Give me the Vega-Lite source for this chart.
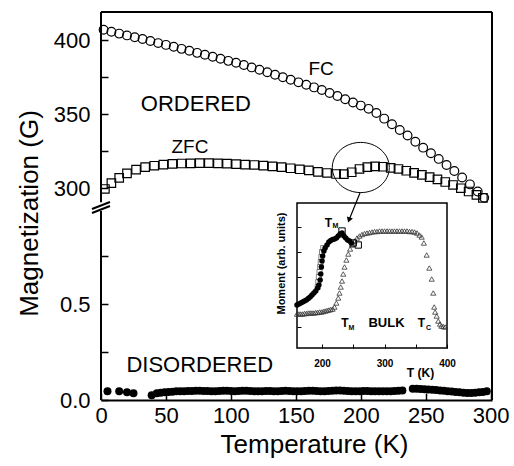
{
  "$schema": "https://vega.github.io/schema/vega-lite/v6.json",
  "width": 391,
  "height": 388,
  "autosize": "none",
  "padding": {"left": 101, "top": 12, "right": 22, "bottom": 66},
  "config": {
    "font": "Liberation Sans",
    "view": {"stroke": null},
    "axis": {"grid": false, "labelColor": "black", "titleColor": "black", "tickColor": "black", "domainColor": "black"}
  },
  "datasets": {
    "main": [
      {"series": "FC", "T": 2, "M": 407}, {"series": "FC", "T": 8, "M": 405.7}, {"series": "FC", "T": 14, "M": 404.4}, {"series": "FC", "T": 20, "M": 403.2},
      {"series": "FC", "T": 26, "M": 402}, {"series": "FC", "T": 32, "M": 400.8}, {"series": "FC", "T": 38, "M": 399.4}, {"series": "FC", "T": 44, "M": 398},
      {"series": "FC", "T": 50, "M": 396.8}, {"series": "FC", "T": 56, "M": 395.5}, {"series": "FC", "T": 62, "M": 394.1}, {"series": "FC", "T": 68, "M": 392.8},
      {"series": "FC", "T": 74, "M": 391.4}, {"series": "FC", "T": 80, "M": 390.1}, {"series": "FC", "T": 86, "M": 388.8}, {"series": "FC", "T": 92, "M": 387.4},
      {"series": "FC", "T": 98, "M": 386}, {"series": "FC", "T": 104, "M": 384.7}, {"series": "FC", "T": 110, "M": 383.2}, {"series": "FC", "T": 116, "M": 381.6},
      {"series": "FC", "T": 122, "M": 380}, {"series": "FC", "T": 128, "M": 378.3}, {"series": "FC", "T": 134, "M": 376.6}, {"series": "FC", "T": 140, "M": 374.9},
      {"series": "FC", "T": 146, "M": 373.3}, {"series": "FC", "T": 152, "M": 371.5}, {"series": "FC", "T": 158, "M": 369.9}, {"series": "FC", "T": 164, "M": 368.1},
      {"series": "FC", "T": 170, "M": 366.3}, {"series": "FC", "T": 176, "M": 364.3}, {"series": "FC", "T": 182, "M": 362.3}, {"series": "FC", "T": 188, "M": 360.1},
      {"series": "FC", "T": 194, "M": 357.9}, {"series": "FC", "T": 200, "M": 355.8}, {"series": "FC", "T": 206, "M": 353.6}, {"series": "FC", "T": 212, "M": 350.8},
      {"series": "FC", "T": 218, "M": 347}, {"series": "FC", "T": 224, "M": 343.2}, {"series": "FC", "T": 230, "M": 339.3}, {"series": "FC", "T": 236, "M": 335.6},
      {"series": "FC", "T": 242, "M": 331.4}, {"series": "FC", "T": 248, "M": 327.4}, {"series": "FC", "T": 254, "M": 323.6}, {"series": "FC", "T": 260, "M": 319.8},
      {"series": "FC", "T": 266, "M": 315.7}, {"series": "FC", "T": 272, "M": 311.6}, {"series": "FC", "T": 278, "M": 307.3}, {"series": "FC", "T": 284, "M": 302.6},
      {"series": "FC", "T": 290, "M": 297.8}, {"series": "FC", "T": 295, "M": 293.5},
      {"series": "ZFC", "T": 3, "M": 299.5}, {"series": "ZFC", "T": 8, "M": 303.5}, {"series": "ZFC", "T": 14, "M": 307}, {"series": "ZFC", "T": 20, "M": 310},
      {"series": "ZFC", "T": 27, "M": 312.5}, {"series": "ZFC", "T": 34, "M": 314.2}, {"series": "ZFC", "T": 41, "M": 315.2}, {"series": "ZFC", "T": 48, "M": 316},
      {"series": "ZFC", "T": 55, "M": 316.4}, {"series": "ZFC", "T": 62, "M": 316.7}, {"series": "ZFC", "T": 69, "M": 316.8}, {"series": "ZFC", "T": 76, "M": 316.9},
      {"series": "ZFC", "T": 83, "M": 316.9}, {"series": "ZFC", "T": 90, "M": 316.8}, {"series": "ZFC", "T": 97, "M": 316.6}, {"series": "ZFC", "T": 104, "M": 316.3},
      {"series": "ZFC", "T": 111, "M": 316}, {"series": "ZFC", "T": 118, "M": 315.7}, {"series": "ZFC", "T": 125, "M": 315.3}, {"series": "ZFC", "T": 132, "M": 314.8},
      {"series": "ZFC", "T": 139, "M": 314.2}, {"series": "ZFC", "T": 146, "M": 313.5}, {"series": "ZFC", "T": 153, "M": 312.8}, {"series": "ZFC", "T": 160, "M": 312},
      {"series": "ZFC", "T": 167, "M": 311}, {"series": "ZFC", "T": 174, "M": 310.3}, {"series": "ZFC", "T": 181, "M": 309.6}, {"series": "ZFC", "T": 187, "M": 309.5},
      {"series": "ZFC", "T": 193, "M": 310.8}, {"series": "ZFC", "T": 199, "M": 313}, {"series": "ZFC", "T": 205, "M": 314.3}, {"series": "ZFC", "T": 211, "M": 314.8},
      {"series": "ZFC", "T": 217, "M": 314.5}, {"series": "ZFC", "T": 223, "M": 313.8}, {"series": "ZFC", "T": 229, "M": 313}, {"series": "ZFC", "T": 235, "M": 311.8},
      {"series": "ZFC", "T": 241, "M": 310.4}, {"series": "ZFC", "T": 247, "M": 309}, {"series": "ZFC", "T": 253, "M": 307.5}, {"series": "ZFC", "T": 259, "M": 306},
      {"series": "ZFC", "T": 265, "M": 304.2}, {"series": "ZFC", "T": 271, "M": 302.2}, {"series": "ZFC", "T": 277, "M": 300}, {"series": "ZFC", "T": 283, "M": 297.8},
      {"series": "ZFC", "T": 289, "M": 295.5}, {"series": "ZFC", "T": 294, "M": 293.5},
      {"series": "DIS", "T": 5, "M": 0.045}, {"series": "DIS", "T": 14, "M": 0.045}, {"series": "DIS", "T": 20, "M": 0.04}, {"series": "DIS", "T": 25, "M": 0.035},
      {"series": "DIS", "T": 39, "M": 0.025}, {"series": "DIS", "T": 43, "M": 0.035}, {"series": "DIS", "T": 46, "M": 0.038}, {"series": "DIS", "T": 49, "M": 0.04},
      {"series": "DIS", "T": 52, "M": 0.042}, {"series": "DIS", "T": 55, "M": 0.043}, {"series": "DIS", "T": 58, "M": 0.045}, {"series": "DIS", "T": 61, "M": 0.045},
      {"series": "DIS", "T": 64, "M": 0.046}, {"series": "DIS", "T": 67, "M": 0.047}, {"series": "DIS", "T": 70, "M": 0.047}, {"series": "DIS", "T": 73, "M": 0.048},
      {"series": "DIS", "T": 76, "M": 0.048}, {"series": "DIS", "T": 79, "M": 0.047}, {"series": "DIS", "T": 82, "M": 0.047}, {"series": "DIS", "T": 85, "M": 0.046},
      {"series": "DIS", "T": 88, "M": 0.046}, {"series": "DIS", "T": 91, "M": 0.047}, {"series": "DIS", "T": 94, "M": 0.048}, {"series": "DIS", "T": 97, "M": 0.048},
      {"series": "DIS", "T": 100, "M": 0.047}, {"series": "DIS", "T": 103, "M": 0.046}, {"series": "DIS", "T": 106, "M": 0.047}, {"series": "DIS", "T": 109, "M": 0.048},
      {"series": "DIS", "T": 112, "M": 0.048}, {"series": "DIS", "T": 115, "M": 0.047}, {"series": "DIS", "T": 118, "M": 0.046}, {"series": "DIS", "T": 121, "M": 0.045},
      {"series": "DIS", "T": 124, "M": 0.046}, {"series": "DIS", "T": 127, "M": 0.047}, {"series": "DIS", "T": 130, "M": 0.047}, {"series": "DIS", "T": 133, "M": 0.046},
      {"series": "DIS", "T": 136, "M": 0.046}, {"series": "DIS", "T": 139, "M": 0.047}, {"series": "DIS", "T": 142, "M": 0.048}, {"series": "DIS", "T": 145, "M": 0.047},
      {"series": "DIS", "T": 148, "M": 0.046}, {"series": "DIS", "T": 151, "M": 0.045}, {"series": "DIS", "T": 154, "M": 0.046}, {"series": "DIS", "T": 157, "M": 0.047},
      {"series": "DIS", "T": 160, "M": 0.048}, {"series": "DIS", "T": 163, "M": 0.048}, {"series": "DIS", "T": 166, "M": 0.047}, {"series": "DIS", "T": 169, "M": 0.046},
      {"series": "DIS", "T": 172, "M": 0.046}, {"series": "DIS", "T": 175, "M": 0.047}, {"series": "DIS", "T": 178, "M": 0.048}, {"series": "DIS", "T": 181, "M": 0.049},
      {"series": "DIS", "T": 184, "M": 0.049}, {"series": "DIS", "T": 187, "M": 0.048}, {"series": "DIS", "T": 190, "M": 0.047}, {"series": "DIS", "T": 193, "M": 0.046},
      {"series": "DIS", "T": 196, "M": 0.046}, {"series": "DIS", "T": 199, "M": 0.046}, {"series": "DIS", "T": 202, "M": 0.047}, {"series": "DIS", "T": 205, "M": 0.047},
      {"series": "DIS", "T": 208, "M": 0.046}, {"series": "DIS", "T": 211, "M": 0.046}, {"series": "DIS", "T": 214, "M": 0.045}, {"series": "DIS", "T": 217, "M": 0.045},
      {"series": "DIS", "T": 220, "M": 0.046}, {"series": "DIS", "T": 223, "M": 0.046}, {"series": "DIS", "T": 226, "M": 0.047}, {"series": "DIS", "T": 229, "M": 0.048},
      {"series": "DIS", "T": 232, "M": 0.05}, {"series": "DIS", "T": 240, "M": 0.058}, {"series": "DIS", "T": 243, "M": 0.058}, {"series": "DIS", "T": 246, "M": 0.057},
      {"series": "DIS", "T": 249, "M": 0.056}, {"series": "DIS", "T": 252, "M": 0.055}, {"series": "DIS", "T": 255, "M": 0.053}, {"series": "DIS", "T": 258, "M": 0.052},
      {"series": "DIS", "T": 261, "M": 0.05}, {"series": "DIS", "T": 264, "M": 0.048}, {"series": "DIS", "T": 267, "M": 0.046}, {"series": "DIS", "T": 270, "M": 0.044},
      {"series": "DIS", "T": 273, "M": 0.042}, {"series": "DIS", "T": 276, "M": 0.04}, {"series": "DIS", "T": 279, "M": 0.038}, {"series": "DIS", "T": 282, "M": 0.037},
      {"series": "DIS", "T": 285, "M": 0.036}, {"series": "DIS", "T": 288, "M": 0.038}, {"series": "DIS", "T": 291, "M": 0.04}, {"series": "DIS", "T": 294, "M": 0.042},
      {"series": "DIS", "T": 297, "M": 0.045}
    ],
    "inset": [
      {"sample": "bulk", "T": 160, "m": 0.13}, {"sample": "bulk", "T": 163, "m": 0.13}, {"sample": "bulk", "T": 166, "m": 0.13}, {"sample": "bulk", "T": 169, "m": 0.13},
      {"sample": "bulk", "T": 172, "m": 0.135}, {"sample": "bulk", "T": 175, "m": 0.135}, {"sample": "bulk", "T": 178, "m": 0.14}, {"sample": "bulk", "T": 181, "m": 0.14},
      {"sample": "bulk", "T": 184, "m": 0.14}, {"sample": "bulk", "T": 187, "m": 0.14}, {"sample": "bulk", "T": 190, "m": 0.145}, {"sample": "bulk", "T": 193, "m": 0.145},
      {"sample": "bulk", "T": 196, "m": 0.15}, {"sample": "bulk", "T": 199, "m": 0.15}, {"sample": "bulk", "T": 202, "m": 0.155}, {"sample": "bulk", "T": 205, "m": 0.16},
      {"sample": "bulk", "T": 208, "m": 0.165}, {"sample": "bulk", "T": 211, "m": 0.17}, {"sample": "bulk", "T": 214, "m": 0.175}, {"sample": "bulk", "T": 217, "m": 0.18},
      {"sample": "bulk", "T": 220, "m": 0.2}, {"sample": "bulk", "T": 223, "m": 0.24}, {"sample": "bulk", "T": 226, "m": 0.29}, {"sample": "bulk", "T": 228, "m": 0.34},
      {"sample": "bulk", "T": 230, "m": 0.4}, {"sample": "bulk", "T": 232, "m": 0.46}, {"sample": "bulk", "T": 234, "m": 0.53}, {"sample": "bulk", "T": 236, "m": 0.6},
      {"sample": "bulk", "T": 239, "m": 0.67}, {"sample": "bulk", "T": 242, "m": 0.73}, {"sample": "bulk", "T": 245, "m": 0.78}, {"sample": "bulk", "T": 248, "m": 0.82},
      {"sample": "bulk", "T": 252, "m": 0.86}, {"sample": "bulk", "T": 256, "m": 0.89}, {"sample": "bulk", "T": 260, "m": 0.91}, {"sample": "bulk", "T": 264, "m": 0.925},
      {"sample": "bulk", "T": 268, "m": 0.935}, {"sample": "bulk", "T": 272, "m": 0.94}, {"sample": "bulk", "T": 276, "m": 0.945}, {"sample": "bulk", "T": 280, "m": 0.95},
      {"sample": "bulk", "T": 284, "m": 0.955}, {"sample": "bulk", "T": 288, "m": 0.955}, {"sample": "bulk", "T": 292, "m": 0.96}, {"sample": "bulk", "T": 296, "m": 0.96},
      {"sample": "bulk", "T": 300, "m": 0.96}, {"sample": "bulk", "T": 304, "m": 0.96}, {"sample": "bulk", "T": 308, "m": 0.96}, {"sample": "bulk", "T": 312, "m": 0.96},
      {"sample": "bulk", "T": 316, "m": 0.96}, {"sample": "bulk", "T": 320, "m": 0.96}, {"sample": "bulk", "T": 324, "m": 0.96}, {"sample": "bulk", "T": 328, "m": 0.96},
      {"sample": "bulk", "T": 332, "m": 0.96}, {"sample": "bulk", "T": 336, "m": 0.96}, {"sample": "bulk", "T": 340, "m": 0.955}, {"sample": "bulk", "T": 344, "m": 0.955},
      {"sample": "bulk", "T": 348, "m": 0.95}, {"sample": "bulk", "T": 352, "m": 0.94}, {"sample": "bulk", "T": 356, "m": 0.92}, {"sample": "bulk", "T": 359.5, "m": 0.9},
      {"sample": "bulk", "T": 363, "m": 0.84}, {"sample": "bulk", "T": 367.5, "m": 0.72}, {"sample": "bulk", "T": 371.7, "m": 0.59}, {"sample": "bulk", "T": 375.5, "m": 0.48},
      {"sample": "bulk", "T": 378, "m": 0.34}, {"sample": "bulk", "T": 379.5, "m": 0.2}, {"sample": "bulk", "T": 381, "m": 0.15}, {"sample": "bulk", "T": 383.5, "m": 0.11},
      {"sample": "bulk", "T": 386, "m": 0.06}, {"sample": "bulk", "T": 388.8, "m": 0.03}, {"sample": "bulk", "T": 391, "m": 0.01}, {"sample": "bulk", "T": 394, "m": 0.005},
      {"sample": "bulk", "T": 397, "m": 0.0},
      {"sample": "ladder", "T": 193, "m": 0.4}, {"sample": "ladder", "T": 194, "m": 0.45}, {"sample": "ladder", "T": 195, "m": 0.5}, {"sample": "ladder", "T": 196, "m": 0.55},
      {"sample": "ladder", "T": 197, "m": 0.6}, {"sample": "ladder", "T": 198, "m": 0.65}, {"sample": "ladder", "T": 199, "m": 0.7}, {"sample": "ladder", "T": 200, "m": 0.75},
      {"sample": "ladder", "T": 202, "m": 0.79},
      {"sample": "film", "T": 160, "m": 0.22}, {"sample": "film", "T": 163, "m": 0.23}, {"sample": "film", "T": 166, "m": 0.24}, {"sample": "film", "T": 169, "m": 0.25},
      {"sample": "film", "T": 172, "m": 0.26}, {"sample": "film", "T": 175, "m": 0.27}, {"sample": "film", "T": 178, "m": 0.285}, {"sample": "film", "T": 181, "m": 0.3},
      {"sample": "film", "T": 184, "m": 0.32}, {"sample": "film", "T": 187, "m": 0.34}, {"sample": "film", "T": 190, "m": 0.36}, {"sample": "film", "T": 193, "m": 0.39},
      {"sample": "film", "T": 195, "m": 0.42}, {"sample": "film", "T": 197, "m": 0.47}, {"sample": "film", "T": 198, "m": 0.53}, {"sample": "film", "T": 199, "m": 0.6},
      {"sample": "film", "T": 200, "m": 0.66}, {"sample": "film", "T": 201, "m": 0.71}, {"sample": "film", "T": 203, "m": 0.76}, {"sample": "film", "T": 205, "m": 0.79},
      {"sample": "film", "T": 208, "m": 0.82}, {"sample": "film", "T": 211, "m": 0.85}, {"sample": "film", "T": 214, "m": 0.865}, {"sample": "film", "T": 217, "m": 0.875},
      {"sample": "film", "T": 220, "m": 0.88}, {"sample": "film", "T": 223, "m": 0.89}, {"sample": "film", "T": 226, "m": 0.91}, {"sample": "film", "T": 229, "m": 0.93},
      {"sample": "film", "T": 232, "m": 0.94}, {"sample": "film", "T": 235, "m": 0.91}, {"sample": "film", "T": 238, "m": 0.89}, {"sample": "film", "T": 241, "m": 0.87},
      {"sample": "film", "T": 244, "m": 0.86}, {"sample": "film", "T": 247, "m": 0.84},
      {"sample": "open", "T": 232, "m": 0.96}, {"sample": "open", "T": 250, "m": 0.84}, {"sample": "open", "T": 258, "m": 0.82}
    ]
  },
  "layer": [
    {
      "layer": [
        {
          "data": {"name": "main"},
          "transform": [{"filter": "datum.series == 'FC'"}],
          "mark": {"type": "point", "shape": "circle", "color": "black", "strokeWidth": 1.2, "size": 76, "opacity": 1},
          "encoding": {
            "x": {"field": "T", "type": "quantitative",
              "scale": {"domain": [0, 301], "nice": false, "zero": false},
              "axis": {"values": [0, 25, 50, 75, 100, 125, 150, 175, 200, 225, 250, 275, 300],
                "labelExpr": "datum.value % 50 == 0 ? datum.label : ''",
                "labelFlush": false, "labelOverlap": false, "domainWidth": 2, "tickSize": -7, "tickWidth": 1.5,
                "labelFontSize": 22, "labelPadding": 12, "title": "Temperature (K)", "titleFontSize": 26,
                "titleFontWeight": "normal", "titleX": 213, "titleY": 52, "titleBaseline": "alphabetic"}},
            "y": {"field": "M", "type": "quantitative",
              "scale": {"domain": [0, 1, 288, 419], "range": [388, 196, 194, 0], "nice": false, "zero": false},
              "axis": {"values": [0, 0.25, 0.5, 0.75, 300, 325, 350, 375, 400],
                "labelExpr": "datum.value == 0.25 || datum.value == 0.75 || datum.value == 325 || datum.value == 375 ? '' : (datum.value < 5 ? format(datum.value, '.1f') : format(datum.value, 'd'))",
                "labelOverlap": false, "domain": false, "tickSize": -7, "tickWidth": 1.5,
                "labelFontSize": 22, "labelPadding": 18, "title": "Magnetization (G)", "titleFontSize": 26,
                "titleFontWeight": "normal", "titleX": -64, "titleY": 201, "titleBaseline": "alphabetic"}}
          }
        },
        {
          "data": {"name": "main"},
          "transform": [{"filter": "datum.series == 'ZFC'"}],
          "mark": {"type": "point", "shape": "square", "color": "black", "strokeWidth": 1.2, "size": 72, "opacity": 1},
          "encoding": {
            "x": {"field": "T", "type": "quantitative"},
            "y": {"field": "M", "type": "quantitative"}
          }
        },
        {
          "data": {"name": "main"},
          "transform": [{"filter": "datum.series == 'DIS'"}],
          "mark": {"type": "point", "shape": "circle", "color": "black", "filled": true, "size": 64, "opacity": 1},
          "encoding": {
            "x": {"field": "T", "type": "quantitative"},
            "y": {"field": "M", "type": "quantitative"}
          }
        },
        {
          "data": {"values": [{}]},
          "mark": {"type": "rule", "color": "black", "strokeWidth": 2},
          "encoding": {
            "x": {"datum": 0, "type": "quantitative"},
            "y": {"datum": 0, "type": "quantitative"},
            "y2": {"datum": 0.985}
          }
        },
        {
          "data": {"values": [{}]},
          "mark": {"type": "rule", "color": "black", "strokeWidth": 2},
          "encoding": {
            "x": {"datum": 0, "type": "quantitative"},
            "y": {"datum": 290.5, "type": "quantitative"},
            "y2": {"datum": 419}
          }
        },
        {
          "data": {"values": [{}]},
          "mark": {"type": "rule", "color": "black", "strokeWidth": 2},
          "encoding": {
            "x": {"datum": 0, "type": "quantitative"},
            "x2": {"datum": 301},
            "y": {"datum": 419, "type": "quantitative"}
          }
        },
        {
          "data": {"values": [{}]},
          "mark": {"type": "rule", "color": "black", "strokeWidth": 2},
          "encoding": {
            "x": {"datum": 301, "type": "quantitative"},
            "y": {"datum": 0, "type": "quantitative"},
            "y2": {"datum": 419}
          }
        },
        {
          "data": {"values": [{}]},
          "mark": {"type": "point", "shape": "M -1 0.17 L 1 -0.61 M -1 0.61 L 1 -0.17", "color": "black", "strokeWidth": 2, "size": 324, "opacity": 1},
          "encoding": {
            "x": {"datum": 0, "type": "quantitative"},
            "y": {"datum": 72, "type": "quantitative"}
          }
        },
        {
          "data": {"values": [{}]},
          "mark": {"type": "point", "shape": "M -1 0 A 1 0.88 0 1 1 1 0 A 1 0.88 0 1 1 -1 0 Z", "color": "black", "strokeWidth": 1, "size": 3249, "opacity": 1},
          "encoding": {
            "x": {"datum": 200, "type": "quantitative"},
            "y": {"datum": 314, "type": "quantitative"}
          }
        },
        {
          "data": {"values": [{}]},
          "mark": {"type": "text", "text": "ORDERED", "fontSize": 22, "baseline": "middle", "color": "black"},
          "encoding": {
            "x": {"datum": 73, "type": "quantitative"},
            "y": {"datum": 357, "type": "quantitative"}
          }
        },
        {
          "data": {"values": [{}]},
          "mark": {"type": "text", "text": "ZFC", "fontSize": 19, "baseline": "middle", "color": "black"},
          "encoding": {
            "x": {"datum": 68.5, "type": "quantitative"},
            "y": {"datum": 328, "type": "quantitative"}
          }
        },
        {
          "data": {"values": [{}]},
          "mark": {"type": "text", "text": "FC", "fontSize": 19, "baseline": "middle", "color": "black"},
          "encoding": {
            "x": {"datum": 169.4, "type": "quantitative"},
            "y": {"datum": 380.5, "type": "quantitative"}
          }
        },
        {
          "data": {"values": [{}]},
          "mark": {"type": "text", "text": "DISORDERED", "fontSize": 22, "baseline": "middle", "color": "black"},
          "encoding": {
            "x": {"datum": 76, "type": "quantitative"},
            "y": {"datum": 0.182, "type": "quantitative"}
          }
        }
      ]
    },
    {
      "layer": [
        {
          "data": {"values": [{}]},
          "mark": {"type": "rect", "fill": "white", "stroke": "black", "strokeWidth": 1.5},
          "encoding": {
            "x": {"datum": 160, "type": "quantitative",
              "scale": {"domain": [160, 400], "range": [196, 346], "nice": false, "zero": false},
              "axis": {"orient": "bottom", "offset": -52, "values": [200, 250, 300, 350, 400],
                "labelExpr": "datum.value % 100 == 0 ? datum.label : ''",
                "labelFlush": false, "labelOverlap": false, "domain": false, "tickSize": -4, "tickWidth": 1,
                "labelFontSize": 10, "labelFontWeight": "bold", "labelPadding": 14, "zindex": 1,
                "title": "T (K)", "titleFontSize": 12, "titleFontWeight": "bold", "titleX": 319, "titleY": 28, "titleBaseline": "alphabetic"}},
            "x2": {"datum": 400},
            "y": {"datum": -0.21, "type": "quantitative",
              "scale": {"domain": [-0.21, 1.24], "range": [336, 191], "nice": false, "zero": false},
              "axis": {"orient": "left", "offset": -196, "values": [0, 0.25, 0.5, 0.75, 1],
                "labels": false, "domain": false, "tickSize": -4, "tickWidth": 1, "zindex": 1,
                "title": "Moment (arb. units)", "titleFontSize": 11, "titleFontWeight": "bold",
                "titleX": -13, "titleY": 251, "titleBaseline": "alphabetic"}},
            "y2": {"datum": 1.24}
          }
        },
        {
          "data": {"name": "inset"},
          "transform": [{"filter": "datum.sample == 'bulk'"}],
          "mark": {"type": "point", "shape": "triangle-up", "color": "#333", "strokeWidth": 0.8, "size": 26, "opacity": 1},
          "encoding": {
            "x": {"field": "T", "type": "quantitative"},
            "y": {"field": "m", "type": "quantitative"}
          }
        },
        {
          "data": {"name": "inset"},
          "transform": [{"filter": "datum.sample == 'ladder'"}],
          "mark": {"type": "point", "shape": "square", "color": "#666", "strokeWidth": 0.8, "size": 25, "opacity": 1},
          "encoding": {
            "x": {"field": "T", "type": "quantitative"},
            "y": {"field": "m", "type": "quantitative"}
          }
        },
        {
          "data": {"name": "inset"},
          "transform": [{"filter": "datum.sample == 'film'"}],
          "mark": {"type": "point", "shape": "circle", "color": "black", "filled": true, "size": 30, "opacity": 1},
          "encoding": {
            "x": {"field": "T", "type": "quantitative"},
            "y": {"field": "m", "type": "quantitative"}
          }
        },
        {
          "data": {"name": "inset"},
          "transform": [{"filter": "datum.sample == 'open'"}],
          "mark": {"type": "point", "shape": "square", "color": "black", "strokeWidth": 1, "size": 40, "opacity": 1},
          "encoding": {
            "x": {"field": "T", "type": "quantitative"},
            "y": {"field": "m", "type": "quantitative"}
          }
        },
        {
          "data": {"values": [{}]},
          "mark": {"type": "text", "text": "T", "fontSize": 12, "fontWeight": "bold", "baseline": "middle", "color": "black"},
          "encoding": {"x": {"datum": 210.4, "type": "quantitative"}, "y": {"datum": 1.045, "type": "quantitative"}}
        },
        {
          "data": {"values": [{}]},
          "mark": {"type": "text", "text": "M", "fontSize": 7, "fontWeight": "bold", "baseline": "middle", "color": "black"},
          "encoding": {"x": {"datum": 221.6, "type": "quantitative"}, "y": {"datum": 1.01, "type": "quantitative"}}
        },
        {
          "data": {"values": [{}]},
          "mark": {"type": "text", "text": "T", "fontSize": 12, "fontWeight": "bold", "baseline": "middle", "color": "black"},
          "encoding": {"x": {"datum": 236.8, "type": "quantitative"}, "y": {"datum": 0.04, "type": "quantitative"}}
        },
        {
          "data": {"values": [{}]},
          "mark": {"type": "text", "text": "M", "fontSize": 7, "fontWeight": "bold", "baseline": "middle", "color": "black"},
          "encoding": {"x": {"datum": 247.2, "type": "quantitative"}, "y": {"datum": -0.005, "type": "quantitative"}}
        },
        {
          "data": {"values": [{}]},
          "mark": {"type": "text", "text": "BULK", "fontSize": 13, "fontWeight": "bold", "baseline": "middle", "color": "black"},
          "encoding": {"x": {"datum": 303.2, "type": "quantitative"}, "y": {"datum": 0.04, "type": "quantitative"}}
        },
        {
          "data": {"values": [{}]},
          "mark": {"type": "text", "text": "T", "fontSize": 12, "fontWeight": "bold", "baseline": "middle", "color": "black"},
          "encoding": {"x": {"datum": 359.2, "type": "quantitative"}, "y": {"datum": 0.04, "type": "quantitative"}}
        },
        {
          "data": {"values": [{}]},
          "mark": {"type": "text", "text": "C", "fontSize": 7, "fontWeight": "bold", "baseline": "middle", "color": "black"},
          "encoding": {"x": {"datum": 370.4, "type": "quantitative"}, "y": {"datum": -0.01, "type": "quantitative"}}
        },
        {
          "data": {"values": [{}]},
          "mark": {"type": "rule", "color": "black", "strokeWidth": 1.2},
          "encoding": {
            "x": {"datum": 260.8, "type": "quantitative"},
            "y": {"datum": 1.34, "type": "quantitative"},
            "x2": {"datum": 243.2},
            "y2": {"datum": 1.07}
          }
        },
        {
          "data": {"values": [{}]},
          "mark": {"type": "point", "shape": "triangle-down", "color": "black", "filled": true, "size": 40, "angle": 19, "opacity": 1},
          "encoding": {
            "x": {"datum": 243.2, "type": "quantitative"},
            "y": {"datum": 1.07, "type": "quantitative"}
          }
        }
      ]
    }
  ],
  "resolve": {"scale": {"x": "independent", "y": "independent"}, "axis": {"x": "independent", "y": "independent"}}
}
